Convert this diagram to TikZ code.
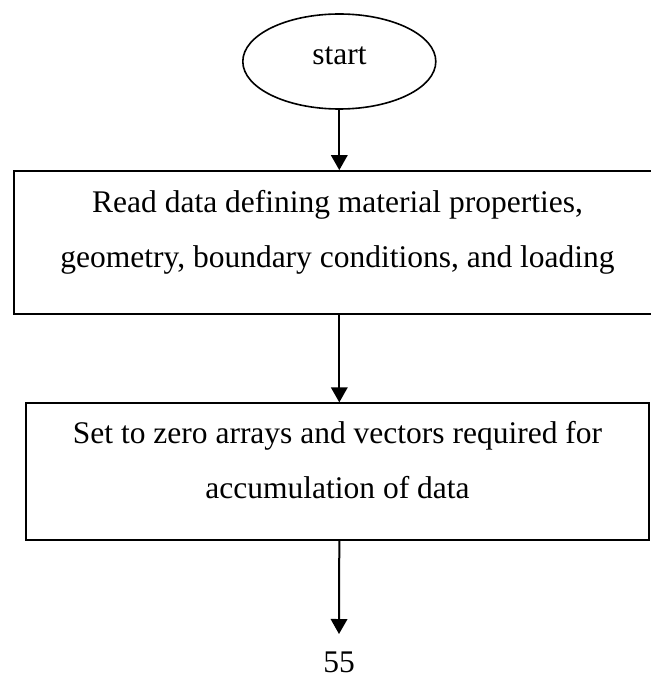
\documentclass[tikz,border=0pt]{standalone}
\usepackage{fontspec}
\setmainfont{Liberation Serif}
\usetikzlibrary{shapes.geometric,arrows.meta}

\tikzset{
  flowline/.style={line width=2pt, -{Triangle[length=15pt,width=16.5pt]}},
  terminal/.style={draw, ellipse, line width=1.6pt, minimum width=193pt, minimum height=95pt, inner sep=0pt},
  procbox/.style={draw, rectangle, line width=1.8pt, inner sep=0pt},
  txt/.style={font=\fontsize{31.5pt}{54pt}\selectfont, anchor=base, inner sep=0pt}
}

\begin{document}
\begin{tikzpicture}[x=1pt,y=-1pt]
  \useasboundingbox (0,0) rectangle (650,679);

  % terminal
  \node[terminal] (start) at (339.3,61.5) {};
  \node[txt] (startlbl) at (339.5,65) {start};

  % first process box (its right side runs off the page)
  \node[procbox, minimum width=640pt, minimum height=143pt] (read) at (334,242.5) {};
  \node[txt] (read1) at (337.5,212) {Read data defining material properties,};
  \node[txt] (read2) at (337.5,267) {geometry, boundary conditions, and loading};

  % second process box
  \node[procbox, minimum width=623.5pt, minimum height=136.5pt] (zero) at (337.6,471.5) {};
  \node[txt] (zero1) at (337.5,443) {Set to zero arrays and vectors required for};
  \node[txt] (zero2) at (337.5,498) {accumulation of data};

  % off-page connector target and page number
  \coordinate (next) at (339,634);
  \node[txt] (page) at (339,672) {55};

  % connectors
  \draw[flowline] (start.south) -- (start.south |- read.north);
  \draw[flowline] (start.south |- read.south) -- (start.south |- zero.north);
  \draw[flowline] (start.south |- zero.south) -- (next);
\end{tikzpicture}
\end{document}
